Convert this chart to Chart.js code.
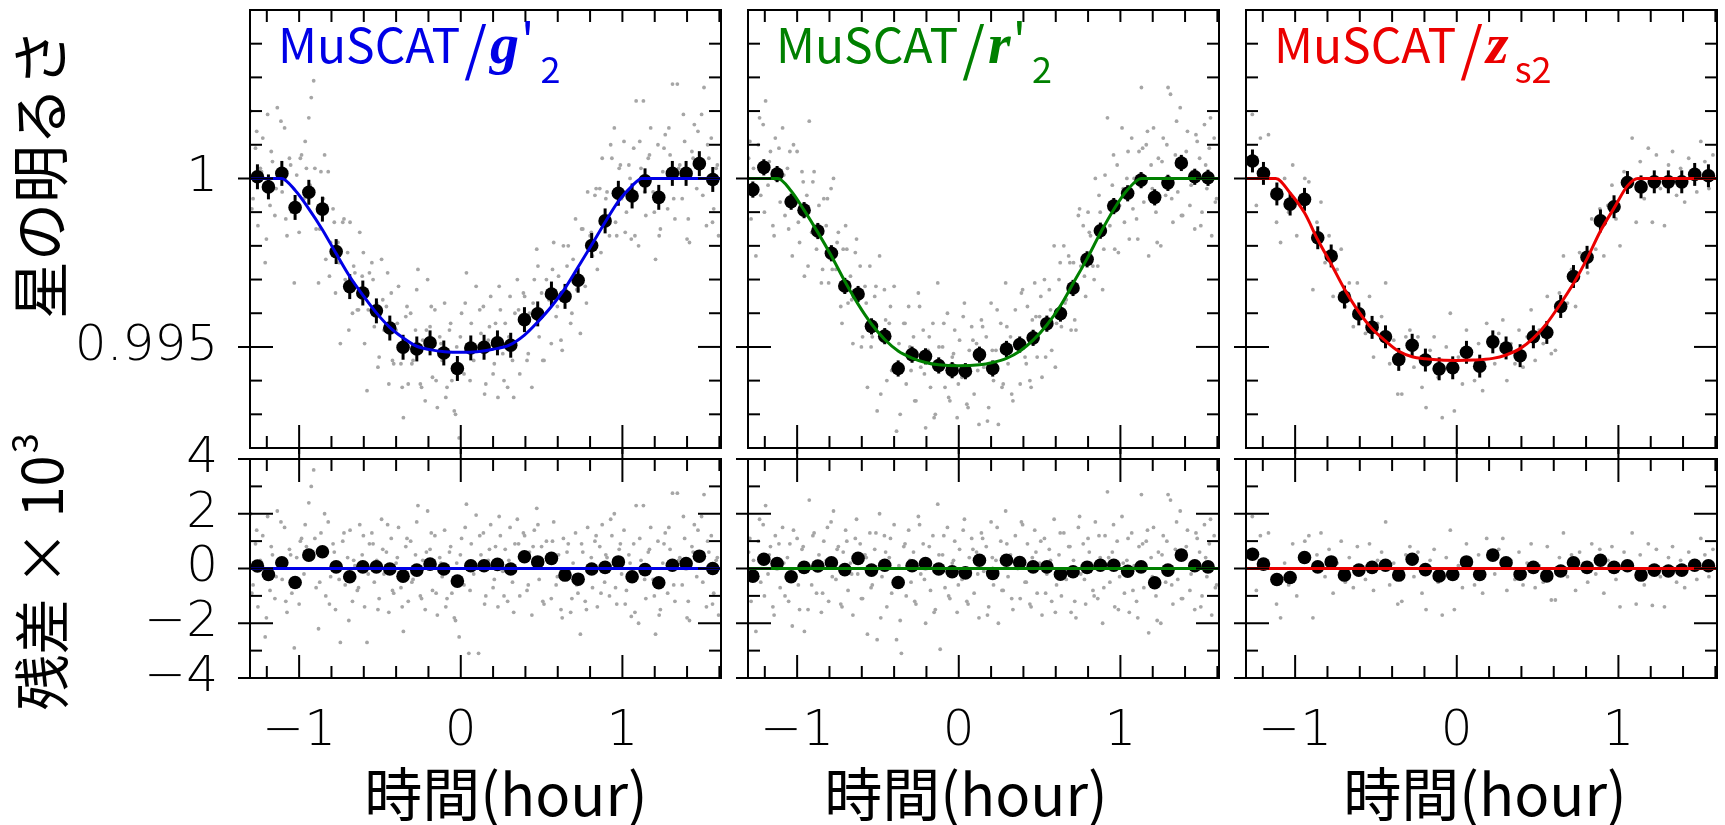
<!DOCTYPE html>
<html lang="ja">
<head>
<meta charset="utf-8">
<title>MuSCAT light curves</title>
<script src="https://cdn.jsdelivr.net/npm/chart.js@4.4.1/dist/chart.umd.min.js"></script>
<style>
html,body{margin:0;padding:0;background:#fff;overflow:hidden;}
#wrap{position:relative;width:1725px;height:825px;background:#fff;}
#wrap canvas{position:absolute;left:0;top:0;}
</style>
</head>
<body>
<div id="wrap">
<canvas id="gTop" width="1725" height="825"></canvas>
<canvas id="gRes" width="1725" height="825"></canvas>
<canvas id="rTop" width="1725" height="825"></canvas>
<canvas id="rRes" width="1725" height="825"></canvas>
<canvas id="zTop" width="1725" height="825"></canvas>
<canvas id="zRes" width="1725" height="825"></canvas>
</div>
<script>
// ---------------- DATA ----------------
// time (hour) of individual exposures, g'2 and r'2 (simultaneous), first camera frame set
const timeGR = [-1.3,-1.285,-1.27,-1.255,-1.24,-1.225,-1.21,-1.195,-1.18,-1.165,
-1.15,-1.135,-1.12,-1.105,-1.09,-1.075,-1.06,-1.045,-1.03,-1.015,
-1,-0.985,-0.97,-0.955,-0.94,-0.925,-0.91,-0.895,-0.88,-0.865,
-0.85,-0.835,-0.82,-0.805,-0.79,-0.775,-0.76,-0.745,-0.73,-0.715,
-0.7,-0.685,-0.67,-0.655,-0.64,-0.625,-0.61,-0.595,-0.58,-0.565,
-0.55,-0.535,-0.52,-0.505,-0.49,-0.475,-0.46,-0.445,-0.43,-0.415,
-0.4,-0.385,-0.37,-0.355,-0.34,-0.325,-0.31,-0.295,-0.28,-0.265,
-0.25,-0.235,-0.22,-0.205,-0.19,-0.175,-0.16,-0.145,-0.13,-0.115,
-0.1,-0.085,-0.07,-0.055,-0.04,-0.025,-0.01,0.005,0.02,0.035,
0.05,0.065,0.08,0.095,0.11,0.125,0.14,0.155,0.17,0.185,
0.2,0.215,0.23,0.245,0.26,0.275,0.29,0.305,0.32,0.335,
0.35,0.365,0.38,0.395,0.41,0.425,0.44,0.455,0.47,0.485,
0.5,0.515,0.53,0.545,0.56,0.575,0.59,0.605,0.62,0.635,
0.65,0.665,0.68,0.695,0.71,0.725,0.74,0.755,0.77,0.785,
0.8,0.815,0.83,0.845,0.86,0.875,0.89,0.905,0.92,0.935,
0.95,0.965,0.98,0.995,1.01,1.025,1.04,1.055,1.07,1.085,
1.1,1.115,1.13,1.145,1.16,1.175,1.19,1.205,1.22,1.235,
1.25,1.265,1.28,1.295,1.31,1.325,1.34,1.355,1.37,1.385,
1.4,1.415,1.43,1.445,1.46,1.475,1.49,1.505,1.52,1.535,
1.55,1.565,1.58,1.595];

const gFluxGray = [1.0020,0.9994,1.0009,0.9986,1.0003,1.0012,0.9975,1.0019,0.9992,1.0005,
0.9989,1.0021,1.0002,0.9996,1.0015,0.9983,1.0006,0.9990,0.9969,1.0001,
0.9984,1.0007,0.9994,1.0003,1.0018,1.0024,1.0029,0.9985,0.9969,1.0002,
0.9994,0.9976,1.0002,0.9981,0.9991,0.9966,0.9981,0.9951,0.9987,0.9970,
0.9978,0.9987,0.9960,0.9972,0.9961,0.9984,0.9971,0.9951,0.9937,0.9972,
0.9975,0.9956,0.9963,0.9947,0.9976,0.9955,0.9962,0.9939,0.9966,0.9945,
0.9955,0.9968,0.9945,0.9929,0.9959,0.9939,0.9960,0.9946,0.9955,0.9973,
0.9939,0.9952,0.9934,0.9970,0.9956,0.9941,0.9961,0.9932,0.9953,0.9946,
0.9963,0.9938,0.9955,0.9940,0.9931,0.9950,0.9923,0.9960,0.9942,0.9972,
0.9917,0.9957,0.9946,0.9968,0.9917,0.9954,0.9962,0.9939,0.9952,0.9965,
0.9942,0.9957,0.9935,0.9961,0.9948,0.9957,0.9938,0.9965,0.9946,0.9960,
0.9970,0.9942,0.9957,0.9965,0.9946,0.9960,0.9938,0.9970,0.9979,0.9953,
0.9966,0.9946,0.9970,0.9964,0.9951,0.9981,0.9959,0.9971,0.9952,0.9980,
0.9967,0.9980,0.9957,0.9976,0.9988,0.9967,0.9954,0.9985,0.9968,0.9996,
0.9983,0.9977,0.9995,0.9973,0.9997,1.0006,0.9986,0.9996,0.9983,1.0006,
1.0015,0.9983,1.0003,0.9994,1.0011,0.9990,1.0004,0.9982,1.0009,1.0023,
0.9980,1.0003,1.0023,0.9989,1.0006,1.0015,0.9996,0.9976,1.0010,0.9985,
1.0002,1.0013,0.9991,1.0007,1.0028,0.9988,1.0028,1.0004,0.9994,1.0011,
0.9982,0.9981,1.0008,1.0016,0.9997,1.0005,1.0019,1.0027,0.9986,1.0006,
1.0012,0.9991,1.0003,0.9983];

const gResGray = [2.0,-0.6,0.9,-1.4,0.3,1.2,-2.5,1.9,-0.8,0.5,
-1.1,2.1,0.2,-0.4,1.5,-1.6,0.7,-0.9,-2.9,0.4,
-1.3,1.1,-0.2,0.8,2.4,3.0,3.6,-0.7,-2.2,1.3,
0.6,-1.0,1.7,-0.3,0.9,-1.5,0.2,-2.7,1.0,-0.6,
0.4,1.4,-1.2,0.1,-0.8,1.6,0.5,-1.4,-2.7,0.9,
1.3,-0.5,0.3,-1.1,1.8,-0.2,0.6,-1.6,1.1,-0.9,
0.2,1.5,-0.7,-2.3,0.8,-1.2,1.0,-0.4,0.5,2.3,
-1.0,0.3,-1.5,2.1,0.7,-0.8,1.2,-1.7,0.4,-0.3,
1.4,-1.1,0.6,-0.9,-1.8,0.2,-2.5,1.1,-0.6,2.35,
-3.1,0.9,-0.2,1.95,-3.1,0.5,1.3,-1.0,0.3,1.6,
-0.7,0.8,-1.4,1.2,-0.1,0.7,-1.2,1.5,-0.5,0.9,
1.8,-1.0,0.4,1.2,-0.8,0.6,-1.7,1.4,2.2,-0.4,
0.8,-1.3,1.0,0.3,-1.1,1.7,-0.6,0.5,-1.5,1.1,
-0.3,0.9,-1.6,0.2,1.3,-0.9,-2.4,0.6,-1.2,1.5,
0.1,-0.7,1.0,-1.4,0.8,1.6,-0.5,0.4,-1.0,1.2,
2.0,-1.3,0.7,-0.2,1.4,-0.8,0.5,-1.75,0.9,2.3,
-2.0,0.3,2.3,-1.1,0.6,1.5,-0.4,-2.4,1.0,-1.5,
0.2,1.3,-0.9,0.7,2.75,-1.2,2.75,0.4,-0.6,1.1,
-1.8,-1.9,0.8,1.6,-0.3,0.5,1.9,2.7,-1.4,0.6,
1.2,-0.9,0.3,-1.7];

const rFluxGray = [1.0006,0.9988,1.0003,0.9977,1.0010,0.9995,1.0016,1.0023,0.9998,1.0008,
0.9986,1.0012,1.0001,0.9993,1.0015,0.9989,1.0003,1.0008,0.9977,0.9994,
1.0008,0.9981,1.0002,0.9971,0.9995,1.0017,0.9984,1.0002,0.9979,0.9992,
0.9969,0.9994,0.9986,0.9969,0.9997,1.0000,0.9973,0.9984,0.9962,0.9979,
0.9986,0.9963,0.9971,0.9951,0.9978,0.9964,0.9974,0.9953,0.9968,0.9938,
0.9974,0.9953,0.9965,0.9931,0.9977,0.9953,0.9967,0.9940,0.9957,0.9943,
0.9968,0.9925,0.9951,0.9919,0.9957,0.9939,0.9962,0.9943,0.9953,0.9934,
0.9966,0.9944,0.9955,0.9926,0.9949,0.9938,0.9957,0.9930,0.9969,0.9915,
0.9950,0.9938,0.9960,0.9934,0.9947,0.9955,0.9929,0.9952,0.9941,0.9963,
0.9933,0.9949,0.9956,0.9936,0.9951,0.9927,0.9958,0.9944,0.9953,0.9932,
0.9963,0.9940,0.9949,0.9927,0.9957,0.9939,0.9969,0.9945,0.9953,0.9934,
0.9961,0.9950,0.9939,0.9967,0.9947,0.9962,0.9940,0.9958,0.9969,0.9947,
0.9959,0.9941,0.9970,0.9957,0.9967,0.9949,0.9980,0.9957,0.9970,0.9956,
0.9980,0.9964,0.9977,0.9955,0.9975,0.9955,0.9989,0.9974,0.9986,0.9965,
0.9990,0.9983,0.9974,1.0000,0.9974,0.9990,0.9967,1.0001,1.0018,0.9986,
0.9998,0.9979,1.0004,0.9992,1.0015,0.9987,1.0000,0.9982,1.0012,1.0000,
0.9988,1.0008,1.0027,0.9993,1.0010,0.9977,1.0004,1.0015,0.9990,1.0006,
0.9980,1.0012,0.9995,1.0027,1.0025,0.9987,1.0007,0.9996,1.0021,0.9989,
1.0005,1.0014,0.9992,1.0002,0.9985,1.0011,1.0006,0.9990,1.0016,0.9997,
1.0009,0.9983,1.0012,0.9994];

const rResGray = [0.6,-1.2,0.3,-2.3,1.0,-0.5,1.6,2.3,-0.2,0.8,
-1.4,1.2,0.1,-0.7,1.5,-1.0,0.4,0.9,-2.1,-0.3,
1.1,-1.5,0.7,-2.3,0.2,2.5,-0.6,1.3,-0.9,0.5,
-1.6,1.0,0.3,-1.2,1.7,2.1,-0.4,0.8,-1.3,0.6,
1.4,-0.8,0.2,-1.7,1.1,-0.2,0.9,-1.1,0.5,-2.4,
1.3,-0.6,0.7,-2.6,2.0,-0.3,1.2,-1.4,0.4,-0.9,
1.6,-2.6,0.1,-3.1,0.8,-1.0,1.4,-0.5,0.6,-1.3,
1.9,-0.2,0.9,-2.0,0.3,-0.8,1.2,-1.5,2.35,-2.95,
0.5,-0.7,1.5,-1.1,0.2,1.0,-1.6,0.7,-0.4,1.8,
-1.2,0.4,1.1,-0.9,0.6,-1.8,1.3,-0.1,0.8,-1.4,
1.7,-0.6,0.3,-2.0,1.0,-0.8,2.1,-0.3,0.5,-1.5,
1.2,0.0,-1.1,1.6,-0.5,0.9,-1.3,0.4,1.4,-0.9,
0.2,-1.7,1.1,-0.2,0.7,-1.2,1.8,-0.6,0.5,-1.0,
1.3,-0.4,0.8,-1.6,0.3,-1.8,1.5,-0.2,0.9,-1.3,
1.1,0.2,-0.8,1.7,-1.1,0.4,-2.0,1.2,2.8,-0.5,
0.6,-1.4,1.0,-0.3,1.9,-0.9,0.3,-1.6,1.3,0.1,
-1.2,0.8,2.7,-0.7,1.0,-2.35,0.4,1.5,-1.0,0.6,
-2.0,1.2,-0.5,2.7,2.5,-1.3,0.7,-0.4,2.1,-1.1,
0.5,1.4,-0.8,0.2,-1.5,1.1,0.6,-1.0,1.6,-0.3,
0.9,-1.7,1.2,-0.6];

// additional exposures of g'2 and r'2 (interleaved frames)
const timeGR2 = [-1.2925,-1.2625,-1.2325,-1.2025,-1.1725,-1.1425,-1.1125,-1.0825,-1.0525,-1.0225,
-0.9925,-0.9625,-0.9325,-0.9025,-0.8725,-0.8425,-0.8125,-0.7825,-0.7525,-0.7225,
-0.6925,-0.6625,-0.6325,-0.6025,-0.5725,-0.5425,-0.5125,-0.4825,-0.4525,-0.4225,
-0.3925,-0.3625,-0.3325,-0.3025,-0.2725,-0.2425,-0.2125,-0.1825,-0.1525,-0.1225,
-0.0925,-0.0625,-0.0325,-0.0025,0.0275,0.0575,0.0875,0.1175,0.1475,0.1775,
0.2075,0.2375,0.2675,0.2975,0.3275,0.3575,0.3875,0.4175,0.4475,0.4775,
0.5075,0.5375,0.5675,0.5975,0.6275,0.6575,0.6875,0.7175,0.7475,0.7775,
0.8075,0.8375,0.8675,0.8975,0.9275,0.9575,0.9875,1.0175,1.0475,1.0775,
1.1075,1.1375,1.1675,1.1975,1.2275,1.2575,1.2875,1.3175,1.3475,1.3775,
1.4075,1.4375,1.4675,1.4975,1.5275,1.5575,1.5875];

const gFluxGray2 = [0.9991,1.0014,1.0002,0.9982,1.0008,0.9997,1.0017,0.9988,1.0004,0.9992,
1.0006,1.0011,0.9998,1.0003,0.9985,1.0007,0.9971,0.9987,0.9975,0.9988,
0.9955,0.9974,0.9961,0.9978,0.9961,0.9970,0.9944,0.9964,0.9972,0.9946,
0.9957,0.9938,0.9962,0.9945,0.9967,0.9938,0.9955,0.9962,0.9940,0.9951,
0.9935,0.9957,0.9930,0.9953,0.9963,0.9940,0.9949,0.9961,0.9936,0.9956,
0.9945,0.9968,0.9940,0.9953,0.9935,0.9961,0.9966,0.9948,0.9963,0.9974,
0.9946,0.9966,0.9973,0.9962,0.9949,0.9974,0.9960,0.9967,0.9985,0.9963,
0.9984,0.9997,0.9978,0.9994,1.0010,0.9987,1.0004,0.9984,1.0000,0.9983,
1.0011,0.9996,1.0007,0.9990,0.9983,1.0009,1.0015,0.9994,1.0003,1.0019,
0.9988,1.0006,1.0014,0.9995,1.0010,0.9987,1.0004];

const gResGray2 = [-0.9,1.4,0.2,-1.8,0.8,-0.3,1.7,-1.2,0.5,-0.6,
1.0,1.6,0.4,1.1,-0.5,2.0,-1.3,0.6,-0.4,1.3,
-1.9,0.3,-0.7,1.2,-0.2,0.9,-1.5,0.7,1.6,-0.8,
0.4,-1.4,1.1,-0.5,1.7,-1.1,0.6,1.3,-0.9,0.2,
-1.4,0.8,-1.9,0.5,1.5,-0.8,0.1,1.2,-1.3,0.7,
-0.4,1.9,-1.0,0.3,-1.6,0.9,1.3,-0.6,0.8,1.6,
-1.2,0.5,1.0,-0.3,-1.8,0.6,-1.1,-0.6,0.9,-1.5,
0.4,1.2,-0.9,0.5,1.8,-0.7,0.9,-1.3,0.2,-1.6,
1.1,-0.4,0.7,-1.0,-1.7,0.9,1.5,-0.6,0.3,1.9,
-1.2,0.6,1.4,-0.5,1.0,-1.3,0.4];

const rFluxGray2 = [1.0011,0.9996,1.0018,0.9990,1.0005,0.9983,1.0009,1.0001,0.9985,1.0010,
0.9987,0.9999,0.9974,0.9999,0.9985,0.9973,0.9994,0.9973,0.9981,0.9957,
0.9979,0.9964,0.9982,0.9950,0.9963,0.9950,0.9968,0.9936,0.9958,0.9962,
0.9944,0.9930,0.9957,0.9950,0.9934,0.9962,0.9942,0.9953,0.9929,0.9950,
0.9957,0.9935,0.9948,0.9939,0.9959,0.9932,0.9952,0.9943,0.9956,0.9928,
0.9949,0.9961,0.9938,0.9956,0.9936,0.9950,0.9966,0.9945,0.9938,0.9959,
0.9965,0.9947,0.9961,0.9944,0.9975,0.9963,0.9975,0.9958,0.9991,0.9971,
0.9984,0.9970,0.9995,0.9979,0.9992,1.0007,0.9978,0.9997,1.0008,0.9991,
0.9982,1.0009,1.0014,0.9997,0.9981,1.0005,1.0010,0.9994,1.0017,0.9989,
1.0008,0.9998,1.0013,0.9986,1.0004,1.0018,0.9993];

const rResGray2 = [1.1,-0.4,1.8,-1.0,0.5,-1.7,0.9,0.2,-1.2,1.4,
-0.6,0.8,-1.5,1.2,0.1,-0.9,1.5,-0.3,0.7,-1.4,
1.0,-0.2,1.8,-1.1,0.4,-0.7,1.3,-1.8,0.6,1.1,
-0.5,-1.9,0.9,0.3,-1.2,1.6,-0.4,0.8,-1.6,0.5,
1.2,-1.0,0.3,-0.6,1.4,-1.3,0.7,-0.2,1.1,-1.7,
0.4,1.5,-0.8,0.9,-1.1,0.2,1.7,-0.5,-1.4,0.6,
1.0,-0.9,0.3,-1.6,1.3,-0.1,0.8,-1.2,1.9,-0.4,
0.6,-1.0,1.2,-0.7,0.4,1.6,-1.5,0.2,1.1,-0.8,
-1.8,0.9,1.4,-0.3,-1.9,0.5,1.0,-0.6,1.7,-1.1,
0.8,-0.2,1.3,-1.4,0.4,1.8,-0.7];

// time (hour) of individual exposures, zs2
const timeZ = [-1.29,-1.265,-1.24,-1.215,-1.19,-1.165,-1.14,-1.115,-1.09,-1.065,
-1.04,-1.015,-0.99,-0.965,-0.94,-0.915,-0.89,-0.865,-0.84,-0.815,
-0.79,-0.765,-0.74,-0.715,-0.69,-0.665,-0.64,-0.615,-0.59,-0.565,
-0.54,-0.515,-0.49,-0.465,-0.44,-0.415,-0.39,-0.365,-0.34,-0.315,
-0.29,-0.265,-0.24,-0.215,-0.19,-0.165,-0.14,-0.115,-0.09,-0.065,
-0.04,-0.015,0.01,0.035,0.06,0.085,0.11,0.135,0.16,0.185,
0.21,0.235,0.26,0.285,0.31,0.335,0.36,0.385,0.41,0.435,
0.46,0.485,0.51,0.535,0.56,0.585,0.61,0.635,0.66,0.685,
0.71,0.735,0.76,0.785,0.81,0.835,0.86,0.885,0.91,0.935,
0.96,0.985,1.01,1.035,1.06,1.085,1.11,1.135,1.16,1.185,
1.21,1.235,1.26,1.285,1.31,1.335,1.36,1.385,1.41,1.435,
1.46,1.485,1.51,1.535,1.56,1.585];

const zFluxGray = [1.0006,1.0019,0.9992,1.0012,1.0003,1.0013,0.9996,0.9987,0.9981,1.0000,
0.9990,1.0004,0.9983,0.9995,1.0000,0.9999,0.9967,0.9987,0.9993,0.9975,
0.9983,0.9965,0.9973,0.9979,0.9962,0.9969,0.9956,0.9969,0.9960,0.9954,
0.9965,0.9947,0.9957,0.9959,0.9969,0.9945,0.9952,0.9936,0.9936,0.9953,
0.9955,0.9944,0.9953,0.9938,0.9932,0.9949,0.9953,0.9941,0.9929,0.9950,
0.9960,0.9931,0.9947,0.9939,0.9955,0.9949,0.9940,0.9951,0.9937,0.9957,
0.9951,0.9945,0.9954,0.9958,0.9940,0.9951,0.9945,0.9955,0.9944,0.9953,
0.9961,0.9946,0.9955,0.9951,0.9965,0.9948,0.9949,0.9966,0.9977,0.9963,
0.9973,0.9962,0.9978,0.9976,0.9972,0.9988,0.9979,0.9991,0.9977,0.9992,
0.9998,0.9988,0.9980,1.0002,1.0000,1.0012,0.9987,1.0005,0.9994,1.0009,
0.9987,1.0007,0.9997,0.9986,1.0004,1.0008,0.9995,1.0003,0.9993,1.0006,
1.0002,0.9996,1.0011,1.0005,0.9997,1.0007];

const zResGray = [0.6,1.9,-0.8,1.2,0.3,1.3,-0.4,-1.3,-1.8,0.2,
-0.6,0.9,-1.0,0.4,1.0,1.2,-1.8,0.5,1.3,-0.3,
0.7,-0.9,0.2,1.0,-0.5,0.4,-0.7,0.8,0.1,-0.4,
0.9,-0.8,0.3,0.6,1.7,-0.6,0.2,-1.3,-1.2,0.5,
0.8,-0.3,0.6,-0.9,-1.5,0.3,0.7,-0.5,-1.7,0.4,
1.4,-1.5,0.1,-0.7,0.9,0.3,-0.6,0.5,-0.9,1.1,
0.4,-0.2,0.7,1.1,-0.8,0.3,-0.4,0.6,-0.6,0.2,
0.9,-0.7,0.1,-0.5,0.8,-1.15,-1.15,0.4,1.3,-0.3,
0.5,-0.8,0.6,0.2,-0.5,0.9,-0.2,0.7,-0.9,0.3,
0.8,-0.4,-1.4,0.6,0.2,1.3,-1.3,0.5,-0.6,0.9,
-1.35,0.7,-0.3,-1.4,0.4,0.8,-0.5,0.3,-0.7,0.6,
0.2,-0.4,1.1,0.5,-0.3,0.7];

// 5-minute binned points
const binTimeG = [-1.258,-1.190,-1.107,-1.025,-0.940,-0.856,-0.771,-0.687,-0.606,-0.522,-0.439,-0.357,-0.272,-0.190,-0.105,-0.021,0.062,0.144,0.227,0.309,0.394,0.476,0.561,0.645,0.726,0.810,0.893,0.975,1.060,1.140,1.225,1.309,1.394,1.476,1.559];
const binFluxG = [1.00005,0.99975,1.00015,0.99914,0.99959,0.99909,0.99783,0.99679,0.99660,0.99607,0.99556,0.99499,0.99494,0.99512,0.99482,0.99436,0.99497,0.99499,0.99512,0.99505,0.99581,0.99598,0.99657,0.99650,0.99698,0.99801,0.99874,0.99956,0.99948,0.99993,0.99944,1.00015,1.00015,1.00044,0.99997];
const binResG = [0.09,-0.22,0.21,-0.51,0.49,0.61,0.06,-0.30,0.06,0.06,-0.02,-0.28,-0.06,0.16,-0.02,-0.46,0.10,0.10,0.15,-0.02,0.43,0.24,0.37,-0.24,-0.39,-0.02,0.04,0.24,-0.30,-0.04,-0.52,0.12,0.18,0.45,0.00];
const binErrG = 0.00037;

const binTimeR = [-1.274,-1.206,-1.124,-1.037,-0.957,-0.872,-0.788,-0.705,-0.623,-0.540,-0.458,-0.375,-0.289,-0.206,-0.124,-0.041,0.041,0.128,0.210,0.295,0.377,0.460,0.545,0.629,0.707,0.794,0.876,0.959,1.045,1.128,1.212,1.294,1.377,1.460,1.542];
const binFluxR = [0.99967,1.00033,1.00013,0.99931,0.99906,0.99844,0.99778,0.99681,0.99657,0.99561,0.99532,0.99436,0.99477,0.99472,0.99445,0.99431,0.99428,0.99477,0.99436,0.99494,0.99507,0.99527,0.99569,0.99599,0.99675,0.99760,0.99845,0.99918,0.99956,0.99995,0.99944,0.99987,1.00046,1.00005,1.00002];
const binResR = [-0.28,0.34,0.18,-0.30,0.04,0.09,0.21,-0.04,0.37,-0.06,0.12,-0.51,0.10,0.18,-0.02,-0.12,-0.16,0.30,-0.18,0.30,0.22,0.06,0.06,-0.21,-0.12,0.04,0.12,0.12,-0.10,0.06,-0.52,-0.06,0.49,0.10,0.06];
const binErrR = 0.00024;

const binTimeZ = [-1.264,-1.196,-1.113,-1.031,-0.942,-0.860,-0.777,-0.695,-0.606,-0.524,-0.441,-0.359,-0.276,-0.194,-0.109,-0.025,0.060,0.142,0.223,0.305,0.392,0.474,0.557,0.643,0.722,0.806,0.889,0.973,1.056,1.140,1.222,1.309,1.392,1.472,1.557];
const binFluxZ = [1.00052,1.00015,0.99954,0.99924,0.99938,0.99824,0.99770,0.99648,0.99598,0.99558,0.99530,0.99463,0.99505,0.99461,0.99435,0.99438,0.99484,0.99443,0.99515,0.99497,0.99474,0.99530,0.99543,0.99620,0.99709,0.99766,0.99874,0.99916,0.99988,0.99975,0.99990,0.99990,0.99990,1.00012,1.00008];
const binResZ = [0.52,0.16,-0.40,-0.33,0.40,0.06,0.24,-0.24,-0.06,0.04,0.12,-0.24,0.34,-0.04,-0.27,-0.22,0.24,-0.22,0.49,0.21,-0.21,0.04,-0.27,-0.09,0.21,0.04,0.30,0.04,0.10,-0.24,-0.06,-0.09,-0.06,0.12,0.10];
const binErrZ = 0.00034;

// best-fit transit models
const modelTimeG = [-1.31,-1.11,-1.025,-0.94,-0.856,-0.771,-0.687,-0.606,-0.522,-0.439,-0.357,-0.272,-0.19,-0.1,0,0.1,0.2,0.3,0.394,0.476,0.561,0.645,0.726,0.81,0.893,0.975,1.06,1.12,1.62];
const modelFluxG = [1,1,0.99965,0.9991,0.99848,0.99777,0.99709,0.99654,0.99601,0.99558,0.99527,0.99502,0.99492,0.99486,0.99484,0.99486,0.99493,0.99505,0.99535,0.99574,0.9962,0.99674,0.99737,0.99803,0.9987,0.99932,0.99978,1,1];
const modelTimeR = [-1.31,-1.12,-1.037,-0.957,-0.872,-0.788,-0.705,-0.623,-0.54,-0.458,-0.375,-0.289,-0.206,-0.124,0,0.128,0.21,0.295,0.377,0.46,0.545,0.629,0.707,0.794,0.876,0.959,1.045,1.13,1.62];
const modelFluxR = [1,1,0.99963,0.99906,0.9984,0.9977,0.99695,0.99627,0.99568,0.99522,0.99488,0.99467,0.99454,0.99447,0.99444,0.99447,0.99454,0.99466,0.99487,0.9952,0.99565,0.99622,0.99688,0.99762,0.99838,0.99908,0.99967,1,1];
const modelTimeZ = [-1.31,-1.12,-1.031,-0.942,-0.86,-0.777,-0.695,-0.606,-0.524,-0.441,-0.359,-0.276,-0.194,-0.1,0,0.1,0.223,0.305,0.392,0.474,0.557,0.643,0.722,0.806,0.889,0.973,1.056,1.12,1.62];
const modelFluxZ = [1,1,0.99957,0.99898,0.99818,0.99746,0.99672,0.99604,0.99554,0.99518,0.99487,0.99471,0.99465,0.99461,0.9946,0.99461,0.99466,0.99476,0.99495,0.99526,0.9957,0.99629,0.99688,0.99762,0.99844,0.99912,0.99978,1,1];
const resModelTime = [-1.31, 1.62];
const resModelValue = [0, 0];

// axis ticks and labels
const xTicks = [-1, 0, 1];
const xTickLabels = ['\u22121', '0', '1'];
const xMinorTicks = [-1.2,-0.8,-0.6,-0.4,-0.2,0.2,0.4,0.6,0.8,1.2,1.4,1.6];
const fluxTicks = [0.995, 1];
const fluxTickLabels = ['0.995', '1'];
const fluxMinorTicks = [0.993,0.994,0.996,0.997,0.998,0.999,1.001,1.002,1.003,1.004];
const resTicks = [-4, -2, 0, 2, 4];
const resTickLabels = ['\u22124', '\u22122', '0', '2', '4'];
const resMinorTicks = [-3, -1, 1, 3];

// ---------------- STYLE / LAYOUT ----------------
const W = 1725, H = 825;
const X_MIN = -1.304, X_MAX = 1.610;
const PANEL_LEFT = [250, 748, 1246];
const PANEL_W = 471;
const ROW_TOP = {top: 10, bottom: 448};
const ROW_RES = {top: 459, bottom: 678};
const Y_BOX = 200, X_BOX = 110;
const TICK_FONT = {family: "'DejaVu Sans', sans-serif", size: 50, weight: '200'};
const JP = "'Noto Sans CJK JP', 'Noto Sans CJK SC', sans-serif";
const MINOR = 12, MAJOR = 23;
const SERIF_BI = "italic bold 58px 'Liberation Serif', serif";
const SLASH = "58px " + JP;

const bands = [
  {key: 'g', color: 'rgb(0,0,230)',
   tFine: timeGR.concat(timeGR2), fFine: gFluxGray.concat(gFluxGray2), rFine: gResGray.concat(gResGray2),
   tBin: binTimeG, fBin: binFluxG, rBin: binResG, eBin: binErrG, tMod: modelTimeG, fMod: modelFluxG,
   label: [{text: 'MuSCAT', font: "48px " + JP}, {text: '/', font: SLASH, dx: 4, dy: 7},
           {text: 'g', font: SERIF_BI, dx: 3}, {text: "'", font: "48px " + JP, dx: 2},
           {text: '2', font: "36px " + JP, dx: 6, dy: 20}],
   xTitleX: 506},
  {key: 'r', color: 'rgb(0,128,0)',
   tFine: timeGR.concat(timeGR2), fFine: rFluxGray.concat(rFluxGray2), rFine: rResGray.concat(rResGray2),
   tBin: binTimeR, fBin: binFluxR, rBin: binResR, eBin: binErrR, tMod: modelTimeR, fMod: modelFluxR,
   label: [{text: 'MuSCAT', font: "48px " + JP}, {text: '/', font: SLASH, dx: 4, dy: 7},
           {text: 'r', font: SERIF_BI, dx: 3}, {text: "'", font: "48px " + JP, dx: 2},
           {text: '2', font: "36px " + JP, dx: 6, dy: 20}],
   xTitleX: 966},
  {key: 'z', color: 'rgb(235,0,0)',
   tFine: timeZ, fFine: zFluxGray, rFine: zResGray,
   tBin: binTimeZ, fBin: binFluxZ, rBin: binResZ, eBin: binErrZ, tMod: modelTimeZ, fMod: modelFluxZ,
   label: [{text: 'MuSCAT', font: "48px " + JP}, {text: '/', font: SLASH, dx: 4, dy: 7},
           {text: 'z', font: SERIF_BI, dx: 3}, {text: 's2', font: "36px " + JP, dx: 6, dy: 20}],
   xTitleX: 1485}
];

function pts(xs, ys) { return xs.map((x, i) => ({x: x, y: ys[i]})); }

function fixBox(s, horizontal) {
  if (horizontal) s.height = X_BOX; else s.width = Y_BOX;
  s.paddingLeft = 0; s.paddingRight = 0; s.paddingTop = 0; s.paddingBottom = 0;
}

function makeDecor(spec) {
  return {
    id: 'decor',
    beforeDatasetDraw(chart, args) {
      if (!spec.err || args.index !== 1) return;
      const ctx = chart.ctx, a = chart.chartArea, xs = chart.scales.x, ys = chart.scales.y;
      ctx.save();
      ctx.beginPath(); ctx.rect(a.left, a.top, a.right - a.left, a.bottom - a.top); ctx.clip();
      ctx.strokeStyle = '#000'; ctx.lineWidth = 3;
      for (let i = 0; i < spec.err.t.length; i++) {
        const px = xs.getPixelForValue(spec.err.t[i]);
        ctx.beginPath();
        ctx.moveTo(px, ys.getPixelForValue(spec.err.f[i] - spec.err.e));
        ctx.lineTo(px, ys.getPixelForValue(spec.err.f[i] + spec.err.e));
        ctx.stroke();
      }
      ctx.restore();
    },
    afterDraw(chart) {
      const ctx = chart.ctx, a = chart.chartArea, xs = chart.scales.x, ys = chart.scales.y;
      ctx.save();
      ctx.strokeStyle = '#000'; ctx.lineWidth = 2; ctx.lineCap = 'butt';
      const seg = (x1, y1, x2, y2) => { ctx.beginPath(); ctx.moveTo(x1, y1); ctx.lineTo(x2, y2); ctx.stroke(); };
      ctx.strokeRect(a.left, a.top, a.right - a.left, a.bottom - a.top);
      for (const v of xMinorTicks) {
        const p = xs.getPixelForValue(v);
        seg(p, a.bottom, p, a.bottom - MINOR); seg(p, a.top, p, a.top + MINOR);
      }
      for (const v of xTicks) {
        const p = xs.getPixelForValue(v);
        seg(p, a.bottom + spec.outBottom, p, a.bottom - MAJOR);
        seg(p, a.top - spec.outTop, p, a.top + spec.topMajorLen);
      }
      for (const v of spec.yMinor) {
        const p = ys.getPixelForValue(v);
        seg(a.left, p, a.left + MINOR, p); seg(a.right - MINOR, p, a.right, p);
      }
      for (const v of spec.yMajor) {
        const p = ys.getPixelForValue(v);
        seg(a.left - 12, p, a.left + MAJOR, p); seg(a.right - MAJOR, p, a.right, p);
      }
      // band label
      if (spec.label) {
        ctx.fillStyle = spec.color; ctx.textAlign = 'left'; ctx.textBaseline = 'alphabetic';
        let x = a.left + 28; const y = a.top + 53;
        for (const r of spec.label) {
          ctx.font = r.font;
          x += (r.dx || 0);
          ctx.fillText(r.text, x, y + (r.dy || 0));
          x += ctx.measureText(r.text).width;
        }
      }
      // free texts (axis titles)
      for (const t of (spec.texts || [])) {
        ctx.save();
        ctx.fillStyle = '#000';
        ctx.translate(t.x, t.y);
        if (t.rotate) ctx.rotate(t.rotate);
        ctx.textBaseline = 'middle'; ctx.textAlign = 'left';
        let total = 0;
        for (const r of t.runs) { ctx.font = r.font; total += ctx.measureText(r.text).width + (r.dx || 0); }
        let x = -total / 2;
        for (const r of t.runs) {
          ctx.font = r.font; x += (r.dx || 0);
          ctx.fillText(r.text, x, r.dy || 0);
          x += ctx.measureText(r.text).width;
        }
        ctx.restore();
      }
      ctx.restore();
    }
  };
}

function makeChart(canvasId, col, band, isRes) {
  const L = PANEL_LEFT[col];
  const area = isRes ? ROW_RES : ROW_TOP;
  const yTicksV = isRes ? resTicks : fluxTicks;
  const yLabels = isRes ? resTickLabels : fluxTickLabels;
  const texts = [];
  if (col === 0 && !isRes) texts.push({x: 40, y: 174, rotate: -Math.PI / 2,
    runs: [{text: '星の明るさ', font: "58px " + JP}]});
  if (col === 0 && isRes) texts.push({x: 42, y: 572, rotate: -Math.PI / 2,
    runs: [{text: '残差 × 10', font: "56px " + JP}, {text: '3', font: "36px " + JP, dx: 2, dy: -18}]});
  if (isRes) texts.push({x: band.xTitleX, y: 794, rotate: 0,
    runs: [{text: '時間(hour)', font: "58px " + JP}]});

  const spec = {
    color: band.color,
    label: isRes ? null : band.label,
    err: isRes ? null : {t: band.tBin, f: band.fBin, e: band.eBin},
    yMinor: isRes ? resMinorTicks : fluxMinorTicks,
    yMajor: yTicksV,
    outBottom: isRes ? 0 : 6,
    outTop: isRes ? 11 : 0,
    topMajorLen: isRes ? MAJOR : MINOR,
    texts: texts
  };

  const datasets = [
    {label: 'exposures', data: pts(band.tFine, isRes ? band.rFine : band.fFine),
     pointRadius: 1.9, pointHoverRadius: 1.9, pointBackgroundColor: '#a6a6a6', pointBorderWidth: 0,
     showLine: false, order: 3},
    {label: 'binned', data: pts(band.tBin, isRes ? band.rBin : band.fBin),
     pointRadius: 6.8, pointHoverRadius: 6.8, pointBackgroundColor: '#000', pointBorderWidth: 0,
     showLine: false, order: 2},
    {label: 'model', data: isRes ? pts(resModelTime, resModelValue) : pts(band.tMod, band.fMod),
     showLine: true, pointRadius: 0, borderColor: band.color, borderWidth: 3,
     cubicInterpolationMode: 'monotone', fill: false, order: 1}
  ];

  return new Chart(document.getElementById(canvasId), {
    type: 'scatter',
    data: {datasets: datasets},
    plugins: [makeDecor(spec)],
    options: {
      responsive: false, animation: false, devicePixelRatio: 1, events: [],
      layout: {padding: {left: L - Y_BOX, right: W - (L + PANEL_W), top: area.top, bottom: H - area.bottom - X_BOX}},
      plugins: {legend: {display: false}, tooltip: {enabled: false}, title: {display: false}},
      scales: {
        x: {
          type: 'linear', position: 'bottom', min: X_MIN, max: X_MAX, bounds: 'data',
          grid: {display: false, drawTicks: false}, border: {display: false},
          afterBuildTicks: (s) => { s.ticks = xTicks.map(v => ({value: v})); },
          afterFit: (s) => fixBox(s, true),
          ticks: {display: isRes, autoSkip: false, maxRotation: 0, minRotation: 0, padding: 24, color: '#000', font: TICK_FONT,
                  callback: (v, i) => xTickLabels[i]}
        },
        y: {
          type: 'linear', position: 'left', min: isRes ? -4 : 0.992, max: isRes ? 4 : 1.005, bounds: 'data',
          grid: {display: false, drawTicks: false}, border: {display: false},
          afterBuildTicks: (s) => { s.ticks = yTicksV.map(v => ({value: v})); },
          afterFit: (s) => fixBox(s, false),
          ticks: {display: col === 0, autoSkip: false, padding: 32, color: '#000', font: TICK_FONT,
                  callback: (v, i) => yLabels[i]}
        }
      }
    }
  });
}

Chart.defaults.font.family = "'DejaVu Sans', sans-serif";
bands.forEach((b, col) => {
  makeChart(b.key + 'Top', col, b, false);
  makeChart(b.key + 'Res', col, b, true);
});
</script>
</body>
</html>
